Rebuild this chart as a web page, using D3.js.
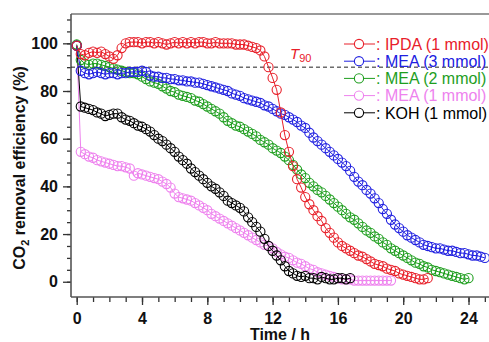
<!DOCTYPE html>
<html>
<head>
<meta charset="utf-8">
<script src="https://cdn.jsdelivr.net/npm/d3@7"></script>
<style>
  html, body { margin: 0; padding: 0; background: #fff; }
  svg { display: block; font-family: Arial, "Liberation Sans", sans-serif; }
</style>
</head>
<body>
<svg id="chart" width="489" height="342"></svg>
<script>
// ---- data ----
const times = [0,0.25,0.5,0.75,1,1.25,1.5,1.75,2,2.25,2.5,2.75,3,3.25,3.5,3.75,4,4.25,4.5,4.75,5,5.25,5.5,5.75,6,6.25,6.5,6.75,7,7.25,7.5,7.75,8,8.25,8.5,8.75,9,9.25,9.5,9.75,10,10.25,10.5,10.75,11,11.25,11.5,11.75,12,12.25,12.5,12.75,13,13.25,13.5,13.75,14,14.25,14.5,14.75,15,15.25,15.5,15.75,16,16.25,16.5,16.75,17,17.25,17.5,17.75,18,18.25,18.5,18.75,19,19.25,19.5,19.75,20,20.25,20.5,20.75,21,21.25,21.5,21.75,22,22.25,22.5,22.75,23,23.25,23.5,23.75,24,24.25,24.5,24.75,25];

const ipda1 = [99,95.5,95,96,96.5,96,96.5,95.5,94.5,93.5,95,98,100,100.5,100.5,100.5,100,100.5,100.5,100,100.5,100,99.5,100,100.5,100,100.5,100,100.5,100,100.5,100.5,100,100,100.5,100,100,100,100,99.5,99.5,99.5,99,98.5,98,97,94.5,90,85.5,80.5,71,61.5,54.5,48.5,43,39.5,35.5,32.5,30,27.5,25.5,22.5,20.5,18.5,16.5,15,14,13,12,11,10.5,9.5,8.5,7.5,7,6.5,5.5,5,4.5,3.5,3,2.5,2,1.5,1,1,1.5];

const mea3 = [99,88.5,87.5,87,87.5,88,87.5,87,87.5,87.5,87,87.5,87.5,88,88,88,88.5,88,86.5,86,86,85.5,85.5,85,85,84.5,84.5,84,84,83.5,83.5,83,82.5,82,81.5,81,80.5,80,79,78.5,78,77,76.5,76,75.5,75,74,73.5,72.5,71.5,70.5,70,69,68,67,65.5,64.5,62.5,60.5,59,57.5,56,54.5,53,51.5,50,48.5,46.5,44,42,40.5,38.5,37,35,33,30.5,28.5,26,24,22.5,21,19.5,18.5,17.5,16.5,15.5,15,14.5,14,14,13.5,13,13,12.5,12,12,11.5,11,11,10.5,10];

const mea2 = [99.5,93,91.5,91,91.5,91.5,91,90.5,90,89.5,89,88.5,88,87.5,87.5,87,86,85,84,83.5,83,82,81,80,79.5,78.5,78,77.5,77,76,75.5,74.5,73.5,72.5,71.5,70.5,69,67.5,66.5,65.5,65,64,63,62,61,59.5,58.5,57.5,56,55,54,52.5,51,49,47,45,43.5,41.5,40,38.5,37.5,36,34.5,33,31.5,30,28.5,27,26,24.5,23,21.5,20.5,19,18,16.5,15.5,14,13,12,11,10,9,8,7.5,6.5,6,5,4.5,4,3.5,3,2.5,2,1.5,1,1.5];

const mea1 = [99,54.5,53.5,52.5,52,51,50.5,50,49.5,49,48.5,48.5,48,47.5,44.5,45.5,45,44.5,44,43.5,43,42,41,39.5,37,35.5,35,34.5,34,33,32,31,30,28.5,27.5,26.5,25.5,24.5,23.5,22.5,21.5,20.5,19.5,18.5,17.5,16.5,15.5,15,14,12.5,11.5,10.5,10,9,8,7.5,6.5,5.5,5,4,3.5,3,2.5,2,1.5,1,1,1,0.5,0.5,0.5,0.5,0.5,0.5,0.5,0.5,0.5,0.5];

const koh1 = [99,73.5,73,72.5,72,71,70.5,69.5,70,70.5,70.5,69,68,67.5,66.5,65.5,65,64,63,61.5,60,59,57.5,56,54.5,52.5,51,49.5,47.5,46,44.5,43,41.5,40,39,37.5,36,34,33,32,31,29.5,27,25,23,21,18,15,13,11,9,6.5,4.5,3.5,2.5,2,2.5,1.5,1.5,1,2,1.5,1,1,1.5,1.5,1,1.5];

const seriesNames = ["MEA (1 mmol)", "KOH (1 mmol)", "MEA (2 mmol)", "MEA (3 mmol)", "IPDA (1 mmol)"];
const seriesValues = [mea1, koh1, mea2, mea3, ipda1];
const seriesColors = ["#ee82ee", "#000000", "#1e9e1e", "#2020e0", "#e8202a"];

const legendNames = ["IPDA (1 mmol)", "MEA (3 mmol)", "MEA (2 mmol)", "MEA (1 mmol)", "KOH (1 mmol)"];
const legendColors = ["#e8202a", "#2020e0", "#1e9e1e", "#ee82ee", "#000000"];

const xMajorTicks = [0,4,8,12,16,20,24];
const yMajorTicks = [0,20,40,60,80,100];
const t90Value = 90;

// ---- layout ----
const svg = d3.select("#chart");
const pLeft = 71, pRight = 493, pTop = 14, pBottom = 297;
const x = d3.scaleLinear().domain([-0.35, 25.5]).range([pLeft, pRight]);
const y = d3.scaleLinear().domain([-6.4, 112.3]).range([pBottom, pTop]);

// frame (top & right)
svg.append("line").attr("x1", pLeft).attr("x2", pRight).attr("y1", pTop).attr("y2", pTop)
  .attr("stroke", "#777").attr("stroke-width", 1.5);
svg.append("line").attr("x1", pRight).attr("x2", pRight).attr("y1", pTop).attr("y2", pBottom)
  .attr("stroke", "#777").attr("stroke-width", 1.5);

// axes
const yMinor = d3.range(0, 111, 5);
const xMinor = d3.range(0, 26, 1);

const yAxisMinor = svg.append("g").attr("transform", `translate(${pLeft},0)`)
  .call(d3.axisLeft(y).tickValues(yMinor).tickSize(4).tickFormat(""));
const yAxisMajor = svg.append("g").attr("transform", `translate(${pLeft},0)`)
  .call(d3.axisLeft(y).tickValues(yMajorTicks).tickSize(8).tickPadding(5));
const xAxisMinor = svg.append("g").attr("transform", `translate(0,${pBottom})`)
  .call(d3.axisBottom(x).tickValues(xMinor).tickSize(5).tickFormat(""));
const xAxisMajor = svg.append("g").attr("transform", `translate(0,${pBottom})`)
  .call(d3.axisBottom(x).tickValues(xMajorTicks).tickSize(8).tickPadding(8));

[yAxisMinor, yAxisMajor, xAxisMinor, xAxisMajor].forEach(g => {
  g.select(".domain").remove();
  g.selectAll(".tick line").attr("stroke", "#333").attr("stroke-width", 1.3);
  g.selectAll("text").attr("font-size", 16).attr("font-weight", "bold").attr("fill", "#111")
    .attr("font-family", "Arial, 'Liberation Sans', sans-serif");
});
svg.append("line").attr("x1", pLeft).attr("x2", pLeft).attr("y1", pTop).attr("y2", pBottom)
  .attr("stroke", "#555").attr("stroke-width", 1.6);
svg.append("line").attr("x1", pLeft).attr("x2", pRight).attr("y1", pBottom).attr("y2", pBottom)
  .attr("stroke", "#555").attr("stroke-width", 1.6);

// dashed T90 line
svg.append("line").attr("x1", pLeft).attr("x2", pRight).attr("y1", y(t90Value)).attr("y2", y(t90Value))
  .attr("stroke", "#222").attr("stroke-width", 1).attr("stroke-dasharray", "4,3");

// series
const line = d3.line().x(d => x(d[0])).y(d => y(d[1]));
seriesValues.forEach((vals, i) => {
  const pts = vals.map((v, j) => [times[j], v]);
  const g = svg.append("g");
  g.append("path").attr("d", line(pts)).attr("fill", "none")
    .attr("stroke", seriesColors[i]).attr("stroke-width", 1);
  g.selectAll("circle").data(pts).enter().append("circle")
    .attr("cx", d => x(d[0])).attr("cy", d => y(d[1])).attr("r", 4.6)
    .attr("fill", "none").attr("stroke", seriesColors[i]).attr("stroke-width", 1.1);
});

// T90 label
const t90 = svg.append("text").attr("x", 290).attr("y", 59).attr("fill", "#e8202a")
  .attr("font-size", 15);
t90.append("tspan").attr("font-style", "italic").text("T");
t90.append("tspan").attr("font-size", 11).attr("dy", 3).text("90");

// legend
legendNames.forEach((name, i) => {
  const cy = 44 + i * 17.2;
  const c = legendColors[i];
  svg.append("line").attr("x1", 344).attr("x2", 375).attr("y1", cy).attr("y2", cy)
    .attr("stroke", c).attr("stroke-width", 1);
  svg.append("circle").attr("cx", 359).attr("cy", cy).attr("r", 4.6)
    .attr("fill", "#fff").attr("stroke", c).attr("stroke-width", 1.1);
  svg.append("text").attr("x", 376).attr("y", cy + 5.8).attr("fill", c)
    .attr("font-size", 16).text(": " + name);
});

// axis titles
svg.append("text").attr("x", 280).attr("y", 340).attr("text-anchor", "middle")
  .attr("font-size", 16).attr("font-weight", "bold").attr("fill", "#111").text("Time / h");

const yt = svg.append("text").attr("transform", "translate(25,168) rotate(-90)")
  .attr("text-anchor", "middle").attr("font-size", 16).attr("font-weight", "bold").attr("fill", "#111");
yt.append("tspan").text("CO");
yt.append("tspan").attr("font-size", 11).attr("dy", 4).text("2");
yt.append("tspan").attr("dy", -4).text(" removal efficiency (%)");
</script>
</body>
</html>
